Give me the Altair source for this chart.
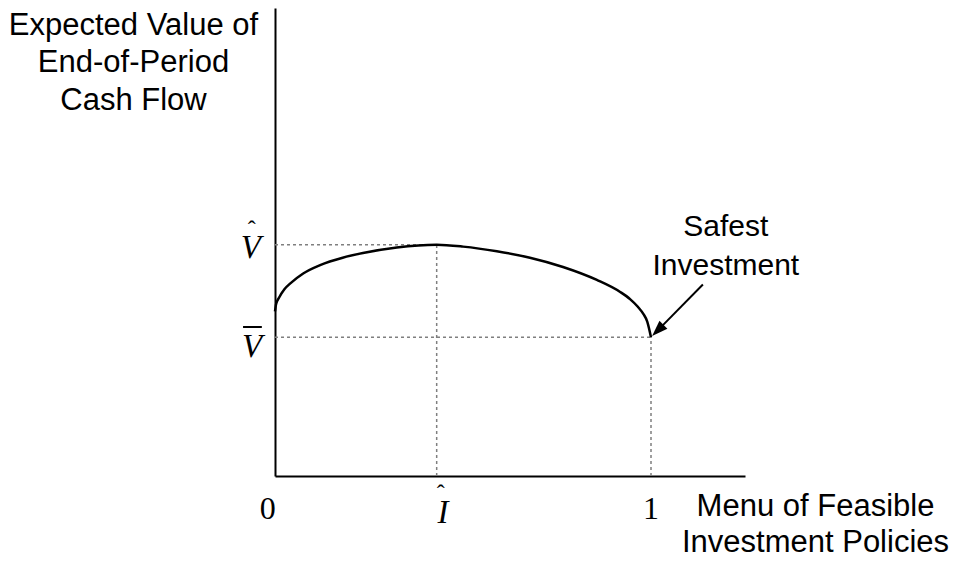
import altair as alt
import pandas as pd

# Curve: expected value of end-of-period cash flow vs. investment policy
policy = [0, 0.003, 0.011, 0.025, 0.04, 0.075, 0.12, 0.18, 0.234, 0.324, 0.43,
          0.5, 0.59, 0.678, 0.766, 0.856, 0.918, 0.945, 0.965, 0.98, 0.99, 1.0]
value = [1.78, 1.86, 1.93, 2.02, 2.08, 2.19, 2.28, 2.36, 2.41, 2.47, 2.5,
         2.48, 2.43, 2.36, 2.26, 2.12, 1.99, 1.91, 1.83, 1.75, 1.67, 1.5]

V_HAT = 2.5    # peak value
V_BAR = 1.5    # value of safest investment
I_HAT = 0.43   # policy at peak
SAFEST = 1.0

X_MAX = 1.25
Y_MAX = 5.06

y_title = ["Expected Value of", "End-of-Period", "Cash Flow"]
x_title = ["Menu of Feasible", "Investment Policies"]

curve = pd.DataFrame({"x": policy, "y": value})

guides = pd.DataFrame({
    "x":  [0, I_HAT, 0, SAFEST],
    "x2": [I_HAT, I_HAT, SAFEST, SAFEST],
    "y":  [V_HAT, 0, V_BAR, 0],
    "y2": [V_HAT, V_HAT, V_BAR, V_BAR],
})

xs = alt.Scale(domain=[0, X_MAX], nice=False, zero=False)
ys = alt.Scale(domain=[0, Y_MAX], nice=False, zero=False)

base_axis_x = alt.Axis(
    title=x_title, ticks=False, labels=False, grid=False,
    domainColor="black", domainWidth=2,
    titleFont="Liberation Sans", titleFontSize=31, titleFontWeight="normal",
    titleColor="black", titleAlign="center", titleBaseline="alphabetic",
    titleX=540, titleY=39, titleLineHeight=36,
)
base_axis_y = alt.Axis(
    title=y_title, ticks=False, labels=False, grid=False,
    domainColor="black", domainWidth=2,
    titleFont="Liberation Sans", titleFontSize=31, titleFontWeight="normal",
    titleColor="black", titleAlign="center", titleBaseline="alphabetic",
    titleAngle=0, titleX=-142, titleY=26, titleLineHeight=37.5,
)

line = alt.Chart(curve).mark_line(color="black", strokeWidth=2.5, interpolate="monotone").encode(
    x=alt.X("x:Q", scale=xs, axis=base_axis_x),
    y=alt.Y("y:Q", scale=ys, axis=base_axis_y),
)

dots = alt.Chart(guides).mark_rule(color="#7f7f7f", strokeWidth=1.5, strokeDash=[3, 3]).encode(
    x=alt.X("x:Q", scale=xs), x2="x2:Q",
    y=alt.Y("y:Q", scale=ys), y2="y2:Q",
)

# upright serif tick labels
ticks_df = pd.DataFrame({"x": [-0.019, SAFEST], "y": [-0.465, -0.465], "t": ["0", "1"]})
tick_txt = alt.Chart(ticks_df).mark_text(
    font="Liberation Serif", fontSize=32, color="black", baseline="alphabetic", align="center"
).encode(x=alt.X("x:Q", scale=xs), y=alt.Y("y:Q", scale=ys), text="t:N")

# italic serif symbols
sym_df = pd.DataFrame({
    "x": [0.447, -0.064, -0.061],
    "y": [-0.508, 2.357, 1.286],
    "t": ["I", "V", "V"],
})
sym_txt = alt.Chart(sym_df).mark_text(
    font="Liberation Serif", fontSize=33, fontStyle="italic", color="black",
    baseline="alphabetic", align="center"
).encode(x=alt.X("x:Q", scale=xs), y=alt.Y("y:Q", scale=ys), text="t:N")

# hats
hat_df = pd.DataFrame({"x": [0.441, -0.062], "y": [-0.27, 2.58], "t": ["ˆ", "ˆ"]})
hat_txt = alt.Chart(hat_df).mark_text(
    font="Liberation Serif", fontSize=24, color="black", baseline="alphabetic", align="center"
).encode(x=alt.X("x:Q", scale=xs), y=alt.Y("y:Q", scale=ys), text="t:N")

# bar over V
bar_df = pd.DataFrame({"x": [-0.085], "x2": [-0.035], "y": [1.611]})
bar = alt.Chart(bar_df).mark_rule(color="black", strokeWidth=2).encode(
    x=alt.X("x:Q", scale=xs), x2="x2:Q", y=alt.Y("y:Q", scale=ys)
)

# annotation
ann_df = pd.DataFrame({"x": [1.199], "y": [2.6], "t": [["Safest", "Investment"]]})
ann_txt = alt.Chart(ann_df).mark_text(
    font="Liberation Sans", fontSize=30, color="black", baseline="alphabetic",
    align="center", lineHeight=39
).encode(x=alt.X("x:Q", scale=xs), y=alt.Y("y:Q", scale=ys), text="t")

arrow_df = pd.DataFrame({"x": [1.138, 1.018], "y": [2.07, 1.575]})
arrow_line = alt.Chart(arrow_df).mark_line(color="black", strokeWidth=2).encode(
    x=alt.X("x:Q", scale=xs), y=alt.Y("y:Q", scale=ys)
)
head_df = pd.DataFrame({"x": [1.018], "y": [1.575]})
arrow_head = alt.Chart(head_df).mark_point(
    shape="M0,-1L-0.7,1L0.7,1Z", filled=True, color="black", size=256, angle=225, opacity=1
).encode(x=alt.X("x:Q", scale=xs), y=alt.Y("y:Q", scale=ys))

chart = alt.layer(
    dots, line, tick_txt, sym_txt, hat_txt, bar, ann_txt, arrow_line, arrow_head
).properties(
    width=470, height=468,
    autosize=alt.AutoSizeParams(type="none"),
    padding={"left": 267, "top": 0, "right": 204, "bottom": 82},
    background="white",
).configure_view(stroke=None)

chart.save("out.html", embed_options={"renderer": "svg", "actions": False})
